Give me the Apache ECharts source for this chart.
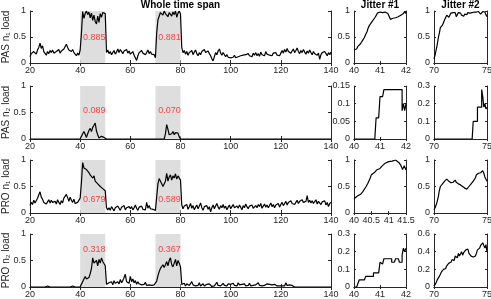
<!DOCTYPE html>
<html><head><meta charset="utf-8">
<script src="https://cdn.jsdelivr.net/npm/echarts@6/dist/echarts.min.js"></script>
<style>html,body{margin:0;padding:0;background:#fff}#c{width:491px;height:299px}</style>
</head><body><div id="c"></div>
<script>
// ---------- DATA ----------
const timeStart = 20, timeStep = 0.5;         // main panels sample grid (20 .. 140)
const shadeWindows = [[40, 50], [70, 80]];
const rowNames = ['PAS n\u2081 load', 'PAS n\u2082 load', 'PRO n\u2081 load', 'PRO n\u2082 load'];
const colTitles = ['Whole time span', 'Jitter #1', 'Jitter #2'];

const pasN1Means = [0.885, 0.881];
const pasN2Means = [0.089, 0.070];
const proN1Means = [0.679, 0.589];
const proN2Means = [0.318, 0.367];

// one line = 10 time units (20 samples)
const pasN1Load = [
 .12,.18,.15,.22,.2,.17,.25,.3,.38,.28,.33,.22,.2,.15,.22,.18,.24,.2,.25,.19,
 .16,.22,.2,.26,.19,.23,.2,.27,.3,.36,.3,.25,.28,.22,.26,.2,.18,.14,.19,.15,
 .25,.57,.99,.86,.95,1,.93,.98,.87,.96,.82,.92,.8,.75,.9,.78,.95,.88,.97,1,
 .95,.2,.25,.18,.22,.16,.2,.24,.17,.21,.27,.2,.26,.22,.18,.23,.2,.26,.19,.23,
 .17,.2,.22,.15,.18,.05,.14,.2,.17,.24,.19,.22,.16,.2,.25,.18,.22,.17,.2,.16,
 .1,.57,.83,.9,.97,.99,.92,1,.95,.98,.89,.97,1,.9,.98,.93,1,.88,.96,1,
 .94,.3,.2,.24,.17,.22,.15,.2,.18,.24,.16,.21,.25,.18,.14,.2,.16,.22,.19,.26,
 .2,.17,.23,.18,.14,.08,.04,.12,.2,.16,.23,.27,.19,.15,.2,.17,.12,.16,.11,.14,
 .1,.13,.11,.15,.1,.13,.12,.09,.14,.11,.15,.12,.16,.13,.18,.14,.17,.12,.19,.15,
 .2,.14,.18,.13,.21,.16,.19,.14,.22,.17,.2,.15,.18,.14,.19,.16,.2,.15,.18,.14,
 .19,.24,.19,.26,.21,.28,.22,.25,.19,.23,.27,.2,.24,.29,.22,.18,.24,.2,.26,.21,
 .17,.23,.19,.25,.2,.16,.22,.18,.21,.15,.19,.07,.16,.2,.17,.22,.18,.14,.2,.16,
 .21
];
const pasN2Load = [
 0,0,0,0,0,0,0,0,0,0,0,0,0,0,0,0,0,0,0,0,
 0,0,0,0,0,0,0,0,0,0,0,0,0,0,0,0,0,0,0,0,
 0,0,.1,.14,.09,.03,.1,.16,.2,.14,.22,.26,.3,.15,.08,.02,0,.05,.06,.03,
 0,0,0,0,0,0,0,0,0,0,0,0,0,0,0,0,0,0,0,0,
 0,0,0,0,0,0,0,0,0,0,0,0,0,0,0,0,0,0,0,0,
 0,0,0,0,0,0,0,0,.1,.27,.18,.08,.06,.1,.14,.08,.12,.1,.11,.04,
 0,0,0,0,0,0,0,0,0,0,0,0,0,0,0,0,0,0,0,0,
 0,0,0,0,0,0,0,0,0,0,0,0,0,0,0,0,0,0,0,0,
 0,0,0,0,0,0,0,0,0,0,0,0,0,0,0,0,0,0,0,0,
 0,0,0,0,0,0,0,0,0,0,0,0,0,0,0,0,0,0,0,0,
 0,0,0,0,0,0,0,0,0,0,0,0,0,0,0,0,0,0,0,0,
 0,0,0,0,0,0,0,0,0,0,0,0,0,0,0,0,0,0,0,0,
 0
];
const proN1Load = [
 .14,.2,.16,.24,.19,.22,.28,.25,.4,.3,.26,.2,.23,.17,.21,.25,.19,.24,.2,.18,
 .22,.17,.25,.2,.16,.23,.19,.28,.25,.35,.29,.22,.3,.24,.2,.26,.18,.15,.2,.17,
 .28,.57,.95,.85,.88,.82,.85,.76,.72,.75,.66,.7,.6,.63,.55,.58,.5,.52,.46,.48,
 .42,.1,.06,.1,.05,.12,.08,.04,.1,.07,.13,.09,.05,.11,.08,.14,.06,.1,.07,.12,
 .08,.12,.06,.1,.15,.09,.05,.11,.08,.13,.07,.1,.06,.2,.09,.14,.08,.11,.07,.1,
 .05,.3,.55,.65,.6,.55,.5,.5,.6,.75,.6,.68,.72,.62,.7,.66,.74,.64,.7,.67,
 .62,.15,.08,.13,.1,.16,.07,.12,.18,.09,.14,.06,.11,.15,.08,.13,.19,.1,.05,.12,
 .09,.14,.07,.12,.02,.1,.15,.08,.13,.18,.11,.07,.14,.1,.16,.09,.13,.06,.11,.15,
 .08,.12,.16,.1,.07,.13,.09,.15,.11,.06,.14,.1,.17,.12,.08,.13,.1,.15,.09,.12,
 .14,.1,.16,.12,.18,.09,.13,.17,.11,.15,.1,.14,.19,.12,.16,.1,.15,.13,.18,.11,
 .16,.2,.14,.18,.22,.15,.2,.17,.23,.18,.21,.16,.2,.24,.18,.22,.19,.25,.2,.17,
 .22,.33,.2,.24,.19,.23,.18,.21,.25,.17,.22,.19,.16,.21,.18,.23,.15,.2,.12,.18,
 .2
];
const proN2Load = [
 0,0,0,0,0,0,0,0,0,0,0,0,0,0,.02,0,0,0,0,0,
 0,0,0,0,0,0,0,0,0,0,0,0,0,0,.02,0,0,0,0,0,
 0,.05,.1,.15,.2,.15,.13,.18,.25,.35,.55,.45,.42,.5,.4,.52,.45,.55,.48,.5,
 .4,.05,.03,.08,.05,.1,.04,.12,.07,.05,.1,.06,.14,.08,.12,.18,.24,.1,.13,.07,
 .2,.1,.15,.08,.12,.05,.1,.06,.08,.04,.07,.05,.09,.03,.06,.04,.05,.03,.06,.04,
 .02,.11,.21,.29,.35,.38,.42,.37,.42,.48,.4,.5,.55,.42,.38,.45,.52,.4,.5,.45,
 .38,.05,.03,.07,.02,.06,.09,.03,.05,.1,.04,.07,.02,.05,.03,.08,.02,.04,.06,.02,
 .03,.05,.02,.06,.03,.01,.04,.02,.05,.09,.03,.06,.02,.04,.07,.03,.05,.02,.06,.03,
 .05,.02,.07,.03,.06,.02,.08,.04,.02,.05,.03,.06,.02,.04,.03,.07,.02,.05,.03,.02,
 .04,.02,.08,.03,.06,.02,.05,.03,.02,.06,.03,.05,.02,.04,.02,.05,.03,.02,.04,.02,
 .03,.02,.05,.02,.08,.03,.02,.04,.02,.03,.01,0,0,0,0,0,0,0,0,0,
 0,0,0,0,0,0,0,0,0,0,0,0,0,0,0,0,0,0,0,0,
 0
];

// Jitter #1 windows (step 0.05 from 40), Jitter #2 windows (step 0.1 from 70)
const pasN1Jit1 = [.25,.28,.27,.32,.34,.37,.4,.45,.49,.55,.6,.68,.73,.72,.8,.82,.87,.91,.96,.99,
 .98,1,.97,1,.98,.99,.95,.9,.84,.82,.86,.84,.87,.86,.89,.9,.92,.91,.95,.99,.95];
const pasN1Jit2 = [.08,.15,.25,.35,.48,.57,.68,.71,.73,.78,.83,.86,.92,.9,.88,.9,.96,.94,.97,.95,
 .97,.89,.93,.97,1,.96,.92,.89,.9,.94,.96,.93,.97,.99,.96,.93,.97,.95,.98,1,
 .98,.95,.99,.96,.94,.97,.99,.96,.98,.93,.89];
const pasN2Jit1 = [0,0,0,0,0,0,0,0,0,0,0,0,0,0,0,0,0,.06,.06,.06,
 .12,.12,.12,.14,.14,.14,.14,.14,.14,.14,.14,.14,.14,.14,.14,.14,.14,.08,.1,.08,.1];
const pasN2Jit2 = [0,0,0,0,0,0,0,0,0,0,0,0,0,0,0,0,0,0,0,0,
 0,0,0,0,0,0,0,0,0,0,0,0,0,0,0,0,0,.1,.1,.1,
 .1,.18,.18,.18,.18,.28,.24,.18,.2,.17,.18];
const proN1Jit1 = [.27,.3,.32,.34,.36,.4,.43,.5,.56,.63,.72,.75,.77,.81,.83,.84,.88,.9,.94,.97,
 .97,.99,.98,.96,1,.98,.95,.9,.82,.89,.81];
const proN1Jit2 = [.06,.1,.15,.22,.3,.42,.5,.53,.55,.57,.6,.58,.64,.65,.6,.62,.57,.6,.58,.61,
 .62,.58,.6,.55,.57,.53,.55,.5,.52,.47,.5,.45,.48,.5,.53,.55,.52,.6,.58,.66,
 .72,.7,.75,.73,.76,.74,.8,.75,.68,.65,.6];
const proN2Jit1 = [0,0,0,.02,.04,.04,.04,.04,.04,.06,.06,.06,.06,.06,.06,.08,.08,.08,.08,.08,
 .14,.13,.12,.16,.16,.16,.16,.16,.16,.14,.14,.14,.16,.16,.16,.14,.14,.18,.22,.2,.22];
const proN2Jit2 = [.01,.03,.05,.08,.1,.12,.14,.17,.19,.2,.22,.21,.24,.25,.27,.29,.28,.31,.33,.3,
 .35,.36,.33,.38,.35,.37,.4,.36,.39,.37,.42,.4,.43,.38,.37,.35,.37,.34,.36,.35,
 .38,.42,.4,.44,.47,.45,.5,.52,.44,.48,.4];

// ---------- BUILD ----------
function pairs(start, step, vals) { return vals.map((v, i) => [+(start + i * step).toFixed(3), v]); }

const rows = [
  { name: rowNames[0], means: pasN1Means, meanY: 0.49,
    main: { data: pasN1Load }, j1: { data: pasN1Jit1, xmax: 42, xint: 1, ymax: 1, yint: 0.5 },
    j2: { data: pasN1Jit2, ymax: 1, yint: 0.5 } },
  { name: rowNames[1], means: pasN2Means, meanY: 0.53,
    main: { data: pasN2Load }, j1: { data: pasN2Jit1, xmax: 42, xint: 1, ymax: 0.15, yint: 0.05, step: 'end' },
    j2: { data: pasN2Jit2, ymax: 0.3, yint: 0.1, step: 'end' } },
  { name: rowNames[2], means: proN1Means, meanY: 0.25,
    main: { data: proN1Load }, j1: { data: proN1Jit1, xmax: 41.5, xint: 0.5, ymax: 1, yint: 0.5 },
    j2: { data: proN1Jit2, ymax: 1, yint: 0.5 } },
  { name: rowNames[3], means: proN2Means, meanY: 0.71,
    main: { data: proN2Load }, j1: { data: proN2Jit1, xmax: 42, xint: 1, ymax: 0.3, yint: 0.1, step: 'end' },
    j2: { data: proN2Jit2, ymax: 0.6, yint: 0.2 } }
];

const rowTop = [11, 86, 160, 234], rowH = [52, 53, 53, 53];
const cols = [{ left: 30, width: 301 }, { left: 354, width: 52 }, { left: 434, width: 53 }];
const AX = '#262626', FONT = 'Liberation Sans, Arial, sans-serif';

const grids = [], xAxes = [], yAxes = [], series = [];
rows.forEach((r, ri) => {
  const panels = [
    { data: pairs(timeStart, timeStep, r.main.data), xmin: 20, xmax: 140, xint: 20, ymax: 1, yint: 0.5 },
    { data: pairs(40, 0.05, r.j1.data), xmin: 40, xmax: r.j1.xmax, xint: r.j1.xint, ymax: r.j1.ymax, yint: r.j1.yint, step: r.j1.step },
    { data: pairs(70, 0.1, r.j2.data), xmin: 70, xmax: 75, xint: 5, ymax: r.j2.ymax, yint: r.j2.yint, step: r.j2.step }
  ];
  panels.forEach((p, ci) => {
    const gi = grids.length;
    grids.push({ left: cols[ci].left, top: rowTop[ri], width: cols[ci].width, height: rowH[ri], show: false,
      containLabel: false, outerBoundsMode: 'none' });
    const base = {
      type: 'value', gridIndex: gi, splitLine: { show: false },
      axisLine: { show: true, lineStyle: { color: AX, width: 1 } },
      axisTick: { show: true, inside: true, length: ci === 0 ? 3 : 2, lineStyle: { color: AX } }
    };
    const lab = { color: AX, fontSize: 9, fontFamily: FONT, margin: 3 };
    const xi = xAxes.length;
    xAxes.push(Object.assign({}, base, { position: 'bottom', min: p.xmin, max: p.xmax, interval: p.xint, axisLabel: lab }));
    xAxes.push(Object.assign({}, base, { position: 'top', min: p.xmin, max: p.xmax, interval: p.xint, axisLabel: { show: false } }));
    const yi = yAxes.length;
    const yl = Object.assign({}, base, { position: 'left', min: 0, max: p.ymax, interval: p.yint,
      axisLabel: Object.assign({}, lab, { margin: 4 }) });
    if (ci === 0) {
      yl.name = r.name; yl.nameLocation = 'middle'; yl.nameGap = 19; yl.nameMoveOverlap = false;
      yl.nameTextStyle = { color: AX, fontSize: 10, fontFamily: FONT };
    }
    yAxes.push(yl);
    yAxes.push(Object.assign({}, base, { position: 'right', min: 0, max: p.ymax, interval: p.yint, axisLabel: { show: false } }));
    const s = {
      type: 'line', xAxisIndex: xi, yAxisIndex: yi, data: p.data, symbol: 'none',
      step: p.step || false, lineStyle: { color: '#000', width: 1.2 }, z: 3
    };
    if (ci === 0) {
      s.markArea = { silent: true, itemStyle: { color: '#dedede' },
        data: shadeWindows.map(w => [{ xAxis: w[0] }, { xAxis: w[1] }]) };
    }
    series.push(s);
    if (ci === 0) {
      series.push({
        type: 'scatter', xAxisIndex: xi, yAxisIndex: yi, symbolSize: 1, z: 4,
        itemStyle: { color: 'rgba(0,0,0,0)' },
        data: shadeWindows.map((w, k) => [(w[0] + w[1]) / 2 + 0.6, r.meanY, r.means[k]]),
        label: { show: true, position: 'inside', color: '#ff1a1a', fontSize: 9, fontFamily: FONT,
          formatter: d => d.value[2].toFixed(3) }
      });
    }
  });
});

const titleX = [cols[0].left + cols[0].width / 2, cols[1].left + cols[1].width / 2, cols[2].left + cols[2].width / 2];
const chart = echarts.init(document.getElementById('c'), null, { renderer: 'canvas' });
chart.setOption({
  animation: false,
  backgroundColor: '#fff',
  grid: grids, xAxis: xAxes, yAxis: yAxes, series: series,
  graphic: colTitles.map((t, i) => ({
    type: 'text', x: titleX[i], y: 5,
    style: { text: t, align: 'center', verticalAlign: 'middle', textAlign: 'center', textVerticalAlign: 'middle',
      font: 'bold 10px ' + FONT, fill: '#000' }
  }))
});
</script>
</body></html>
